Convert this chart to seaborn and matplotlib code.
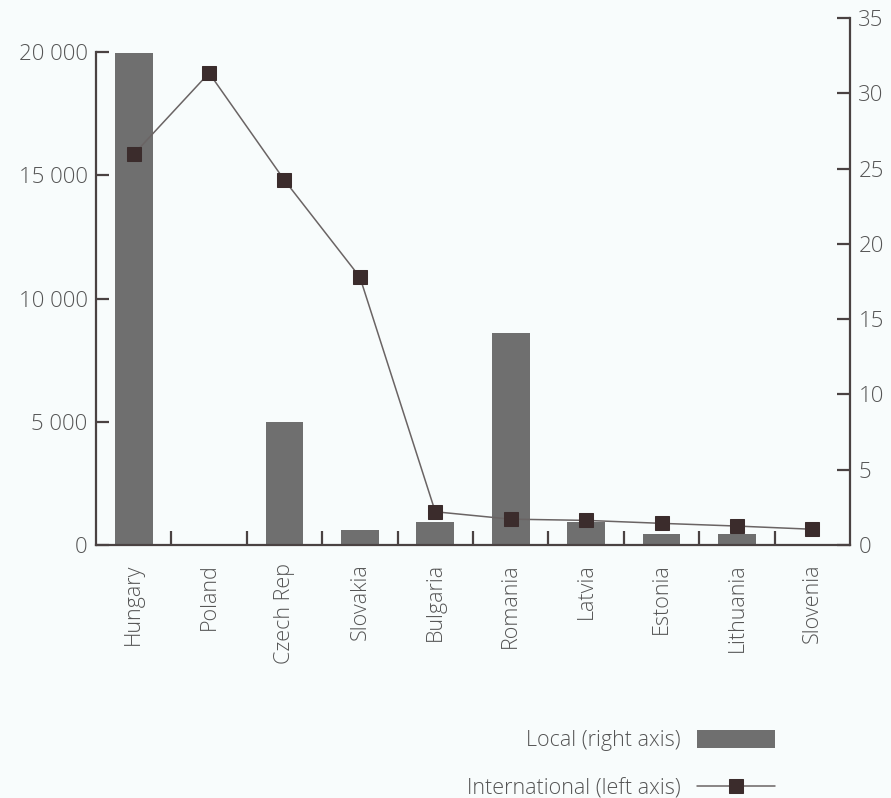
import numpy as np
import pandas as pd
import matplotlib
matplotlib.use('Agg')
import matplotlib.pyplot as plt
from matplotlib.ticker import FixedLocator, FuncFormatter
import seaborn as sns

# Data
countries = ['Hungary', 'Poland', 'Czech Rep', 'Slovakia', 'Bulgaria',
             'Romania', 'Latvia', 'Estonia', 'Lithuania', 'Slovenia']
local = [32.7, 0, 8.2, 1.0, 1.5, 14.1, 1.5, 0.7, 0.7, 0]            # right axis
international = [15850, 19150, 14800, 10870, 1350, 1050, 1000, 880, 770, 640]  # left axis

bg = '#f8fcfc'
text_col = '#555555'
spine_col = '#4a4242'

sns.set_style('ticks')
plt.rcParams['font.family'] = ['Open Sans', 'DejaVu Sans']
plt.rcParams['font.weight'] = 'light'

df = pd.DataFrame({'country': countries, 'local': local, 'international': international})

fig = plt.figure(figsize=(8.91, 7.98), dpi=100, facecolor=bg)
ax = fig.add_axes([0.1077, 0.317, 0.8463, 0.6604])
ax2 = ax.twinx()

# Bars on the right axis
sns.barplot(data=df, x='country', y='local', ax=ax2, color='#6f6f6f',
            width=0.5, saturation=1, edgecolor='none', label='Local (right axis)')

# Line on the left axis, drawn above the bars
sns.lineplot(data=df, x='country', y='international', ax=ax, sort=False,
             color='#6a6464', linewidth=1.1, marker='s', markersize=10.5,
             markerfacecolor='#3b2c2c', markeredgecolor='#3b2c2c',
             label='International (left axis)')
ax.set_zorder(ax2.get_zorder() + 1)
ax.patch.set_visible(False)
ax2.patch.set_facecolor(bg)

# Left axis
ax.set_ylim(0, 20000 * 527 / 493)
ax.yaxis.set_major_locator(FixedLocator([0, 5000, 10000, 15000, 20000]))
ax.yaxis.set_major_formatter(FuncFormatter(lambda v, p: f'{v:,.0f}'.replace(',', ' ')))
ax.spines['left'].set_bounds(0, 20000)
ax.spines['top'].set_visible(False)
ax.spines['right'].set_visible(False)

# Right axis
ax2.set_ylim(0, 35)
ax2.yaxis.set_major_locator(FixedLocator([0, 5, 10, 15, 20, 25, 30, 35]))
ax2.spines['top'].set_visible(False)
ax2.spines['left'].set_visible(False)
ax2.spines['bottom'].set_visible(False)

ax.set_xlim(-0.5, len(countries) - 0.5)
ax.set_xlabel('')
ax.set_ylabel('')
ax2.set_ylabel('')
ax2.set_xlabel('')

for sp in ['left', 'bottom']:
    ax.spines[sp].set_color(spine_col)
    ax.spines[sp].set_linewidth(1.6)
ax2.spines['right'].set_color(spine_col)
ax2.spines['right'].set_linewidth(1.6)

ax.tick_params(axis='y', direction='in', length=9.5, width=1.6, color=spine_col,
               labelsize=16, labelcolor=text_col, pad=6)
ax2.tick_params(axis='y', direction='in', length=9.5, width=1.6, color=spine_col,
                labelsize=16, labelcolor=text_col, pad=6)

# Category labels at centres, tick marks between categories
ax.set_xticks(range(len(countries)))
ax.set_xticklabels(countries, rotation=90)
ax.tick_params(axis='x', which='major', length=0, labelsize=15.5, labelcolor=text_col, pad=13)
ax.set_xticks(np.arange(0.5, len(countries) - 1), minor=True)
ax.tick_params(axis='x', which='minor', direction='in', length=10, width=1.6, color=spine_col)

# Legend at the bottom right, labels before handles
if ax.get_legend():
    ax.get_legend().remove()
if ax2.get_legend():
    ax2.get_legend().remove()
h1, l1 = ax2.get_legend_handles_labels()
h2, l2 = ax.get_legend_handles_labels()
leg = fig.legend(h1 + h2, l1 + l2, loc='lower right', bbox_to_anchor=(0.891, -0.026),
                 frameon=False, markerfirst=False, fontsize=15.5, labelcolor=text_col,
                 handlelength=3.6, handleheight=0.9, labelspacing=1.25, handletextpad=0.75)

fig.savefig('out.png', dpi=100, facecolor=bg)
